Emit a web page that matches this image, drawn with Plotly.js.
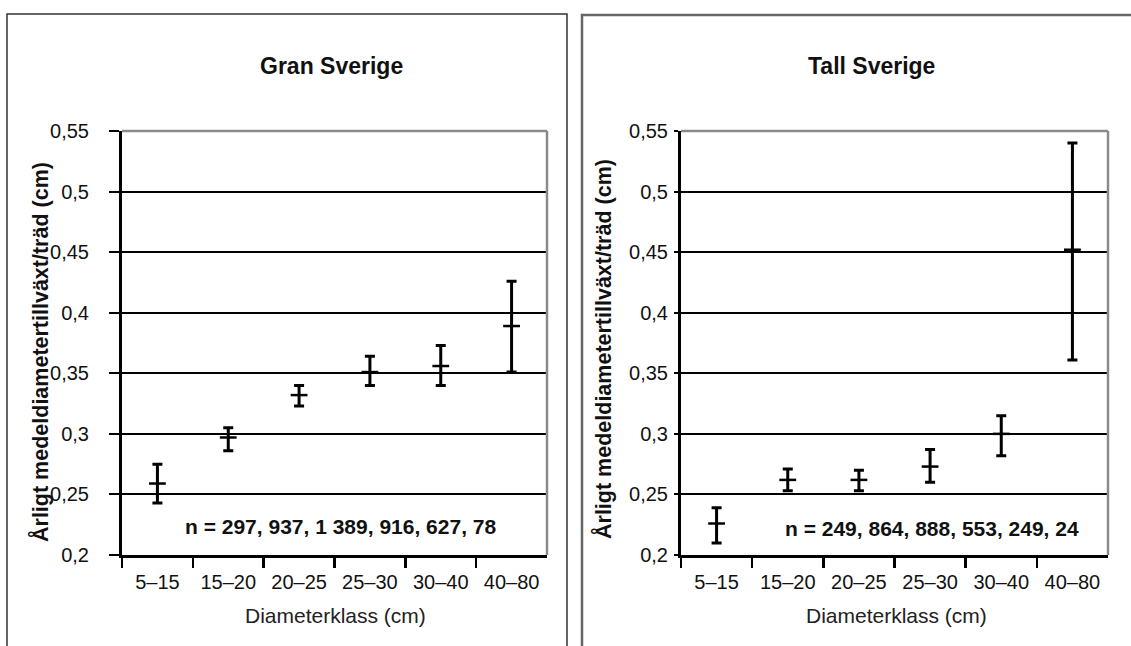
<!DOCTYPE html>
<html>
<head>
<meta charset="utf-8">
<script src="https://cdn.plot.ly/plotly-3.0.1.min.js"></script>
<style>
  html, body { margin: 0; padding: 0; background: #ffffff; }
  #chart { width: 1131px; height: 646px; }
</style>
</head>
<body>
<div id="chart"></div>
<script>
// ---- data ----
const categories = ['5–15', '15–20', '20–25', '25–30', '30–40', '40–80'];

const granMean = [0.259, 0.297, 0.332, 0.351, 0.356, 0.389];
const granHigh = [0.275, 0.305, 0.340, 0.364, 0.373, 0.426];
const granLow  = [0.243, 0.286, 0.323, 0.340, 0.340, 0.351];

const tallMean = [0.226, 0.262, 0.262, 0.273, 0.300, 0.452];
const tallHigh = [0.239, 0.271, 0.270, 0.287, 0.315, 0.540];
const tallLow  = [0.210, 0.253, 0.253, 0.260, 0.282, 0.361];

const yTickVals = [0.2, 0.25, 0.3, 0.35, 0.4, 0.45, 0.5, 0.55];
const yTickText = ['0,2', '0,25', '0,3', '0,35', '0,4', '0,45', '0,5', '0,55'];

const panelTitles = ['Gran Sverige', 'Tall Sverige'];
const nTexts = ['n = 297, 937, 1 389, 916, 627, 78', 'n = 249, 864, 888, 553, 249, 24'];
const yTitle = 'Årligt medeldiametertillväxt/träd (cm)';
const xTitle = 'Diameterklass (cm)';

// ---- build ----
const FONT = '"Liberation Sans", Arial, Helvetica, sans-serif';
const W = 1131, H = 646;
const px = v => v / W;
const py = v => 1 - v / H;

function trace(mean, high, low, xa, ya) {
  return {
    type: 'scatter', mode: 'markers',
    x: categories, y: mean, xaxis: xa, yaxis: ya,
    marker: { symbol: 'line-ew', size: 12, color: '#000', line: { color: '#000', width: 2.5 } },
    error_y: {
      type: 'data', symmetric: false,
      array: high.map((h, i) => h - mean[i]),
      arrayminus: low.map((l, i) => mean[i] - l),
      color: '#000', thickness: 3, width: 5
    },
    showlegend: false, hoverinfo: 'skip'
  };
}

const data = [
  trace(granMean, granHigh, granLow, 'x', 'y'),
  trace(tallMean, tallHigh, tallLow, 'x2', 'y2')
];

function xax(domain, anchor) {
  return {
    domain: domain, anchor: anchor, type: 'category',
    categoryorder: 'array', categoryarray: categories,
    range: [-0.5, categories.length - 0.5],
    tickson: 'boundaries', ticks: 'outside', ticklen: 10, tickwidth: 2.5, tickcolor: '#000',
    ticklabelstandoff: 7,
    showline: true, linecolor: '#000', linewidth: 3,
    showgrid: false, zeroline: false,
    tickfont: { family: FONT, size: 20, color: '#111' },
    fixedrange: true
  };
}
function yax(domain, anchor, ticklen, standoff) {
  return {
    domain: domain, anchor: anchor,
    range: [0.2, 0.55], tickmode: 'array', tickvals: yTickVals, ticktext: yTickText,
    ticks: 'outside', ticklen: ticklen, tickwidth: 2, tickcolor: '#000',
    ticklabelstandoff: standoff,
    showline: true, linecolor: '#000', linewidth: 3,
    showgrid: true, gridcolor: '#000', gridwidth: 2, zeroline: false,
    tickfont: { family: FONT, size: 20, color: '#111' },
    fixedrange: true
  };
}

const yDom = [py(555), py(131)];

const layout = {
  width: W, height: H,
  margin: { l: 0, r: 0, t: 0, b: 0 },
  paper_bgcolor: '#fff', plot_bgcolor: '#fff',
  showlegend: false,
  font: { family: FONT, color: '#111' },
  xaxis: xax([px(122), px(547)], 'y'),
  yaxis: yax(yDom, 'x', 10, 16),
  xaxis2: xax([px(681), px(1108)], 'y2'),
  yaxis2: yax(yDom, 'x2', 4, 2),
  shapes: [
    { type: 'rect', xref: 'paper', yref: 'paper', x0: px(7), x1: px(567), y0: -0.05, y1: py(14),
      line: { color: '#333', width: 1.5 }, layer: 'below' },
    { type: 'rect', xref: 'paper', yref: 'paper', x0: px(582), x1: 1.05, y0: -0.05, y1: py(15),
      line: { color: '#666', width: 2.5 }, layer: 'below' },
    { type: 'line', xref: 'x domain', yref: 'y domain', x0: 0, x1: 1, y0: 1, y1: 1, line: { color: '#8a8a8a', width: 2.5 }, layer: 'above' },
    { type: 'line', xref: 'x domain', yref: 'y domain', x0: 1, x1: 1, y0: 0, y1: 1, line: { color: '#8a8a8a', width: 2.5 }, layer: 'above' },
    { type: 'line', xref: 'x2 domain', yref: 'y2 domain', x0: 0, x1: 1, y0: 1, y1: 1, line: { color: '#8a8a8a', width: 2.5 }, layer: 'above' },
    { type: 'line', xref: 'x2 domain', yref: 'y2 domain', x0: 1, x1: 1, y0: 0, y1: 1, line: { color: '#8a8a8a', width: 2.5 }, layer: 'above' }
  ],
  annotations: [
    { text: '<b>' + panelTitles[0] + '</b>', xref: 'paper', yref: 'paper', x: px(331.5), y: py(66),
      showarrow: false, xanchor: 'center', yanchor: 'middle', font: { family: FONT, size: 23, color: '#111' } },
    { text: '<b>' + panelTitles[1] + '</b>', xref: 'paper', yref: 'paper', x: px(871.5), y: py(66),
      showarrow: false, xanchor: 'center', yanchor: 'middle', font: { family: FONT, size: 23, color: '#111' } },
    { text: '<b>' + yTitle + '</b>', xref: 'paper', yref: 'paper', x: px(40), y: py(352), textangle: -90,
      showarrow: false, xanchor: 'center', yanchor: 'middle', font: { family: FONT, size: 21.5, color: '#111' } },
    { text: '<b>' + yTitle + '</b>', xref: 'paper', yref: 'paper', x: px(603), y: py(349), textangle: -90,
      showarrow: false, xanchor: 'center', yanchor: 'middle', font: { family: FONT, size: 21.5, color: '#111' } },
    { text: xTitle, xref: 'paper', yref: 'paper', x: px(335.5), y: py(615),
      showarrow: false, xanchor: 'center', yanchor: 'middle', font: { family: FONT, size: 21, color: '#222' } },
    { text: xTitle, xref: 'paper', yref: 'paper', x: px(896.5), y: py(615),
      showarrow: false, xanchor: 'center', yanchor: 'middle', font: { family: FONT, size: 21, color: '#222' } },
    { text: '<b>' + nTexts[0] + '</b>', xref: 'paper', yref: 'paper', x: px(340), y: py(526),
      showarrow: false, xanchor: 'center', yanchor: 'middle', font: { family: FONT, size: 21, color: '#111' } },
    { text: '<b>' + nTexts[1] + '</b>', xref: 'paper', yref: 'paper', x: px(932), y: py(528),
      showarrow: false, xanchor: 'center', yanchor: 'middle', font: { family: FONT, size: 21, color: '#111' } }
  ]
};

Plotly.newPlot('chart', data, layout, { displayModeBar: false, staticPlot: true });
</script>
</body>
</html>
